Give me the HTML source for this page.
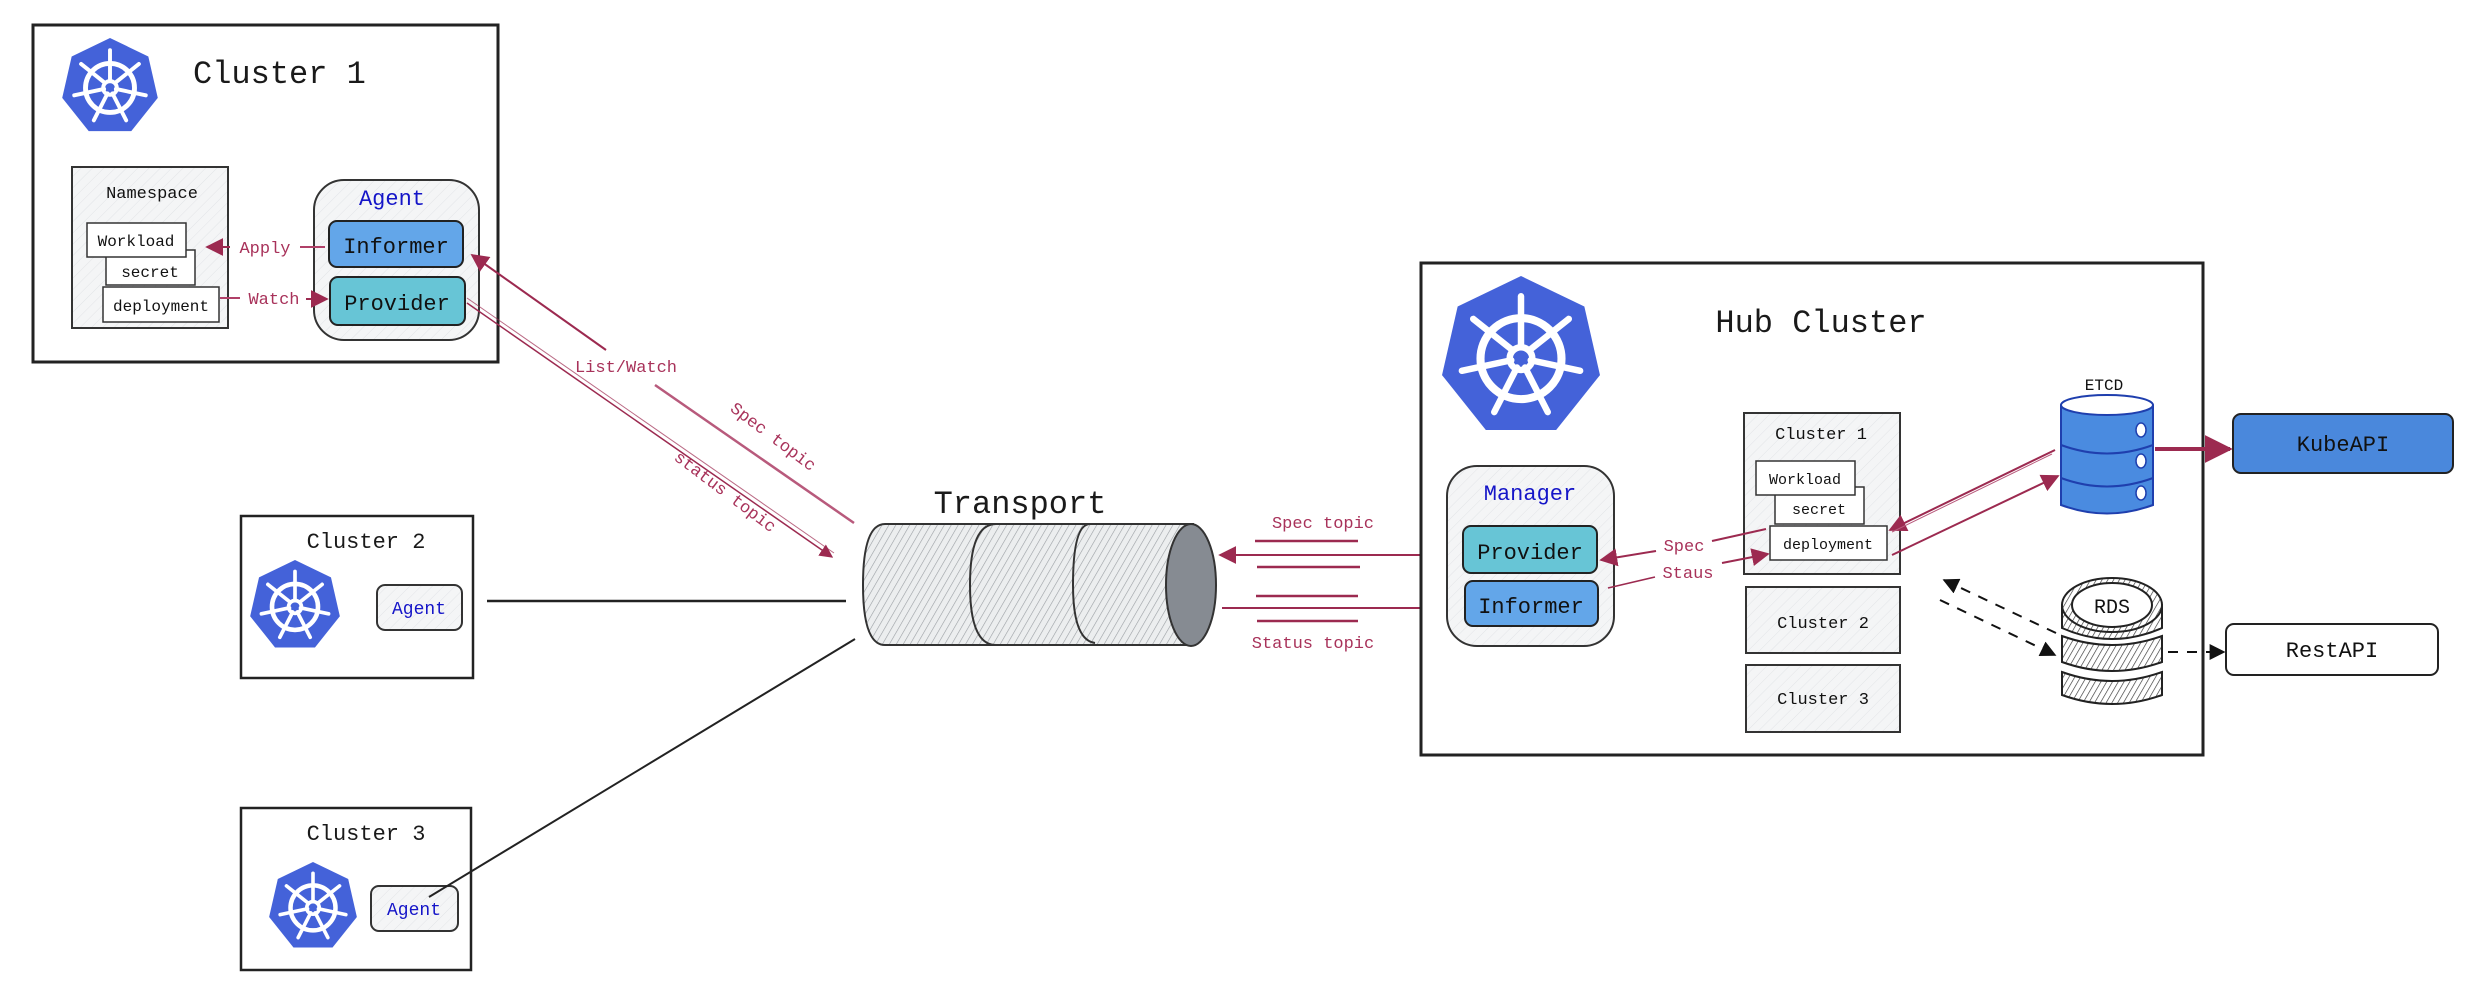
<!DOCTYPE html>
<html><head><meta charset="utf-8"><style>
html,body{margin:0;padding:0;background:#fff;}
svg{display:block;}
text{font-family:"Liberation Mono",monospace;}
</style></head><body>
<svg width="2490" height="992" viewBox="0 0 2490 992" xmlns="http://www.w3.org/2000/svg">
<defs>
<pattern id="hl" width="8" height="8" patternUnits="userSpaceOnUse" patternTransform="rotate(45)">
<rect width="8" height="8" fill="#f4f5f6"/><line x1="0" y1="0" x2="0" y2="8" stroke="#e2e4e7" stroke-width="1"/></pattern>
<pattern id="hg" width="6" height="6" patternUnits="userSpaceOnUse" patternTransform="rotate(30)">
<rect width="6" height="6" fill="#eceeef"/><line x1="0" y1="0" x2="0" y2="6" stroke="#9a9ea3" stroke-width="1.2"/></pattern>
<pattern id="hd" width="5" height="5" patternUnits="userSpaceOnUse" patternTransform="rotate(30)">
<rect width="5" height="5" fill="#fff"/><line x1="0" y1="0" x2="0" y2="5" stroke="#333" stroke-width="1.3"/></pattern>
<symbol id="k8s" viewBox="-1 -1 2 2">
<polygon points="0,-1 0.782,-0.623 0.975,0.223 0.434,0.901 -0.434,0.901 -0.975,0.223 -0.782,-0.623" fill="#4462d9"/>
<circle cx="0" cy="0.02" r="0.5" fill="none" stroke="#fff" stroke-width="0.1"/>
<circle cx="0" cy="0.02" r="0.14" fill="none" stroke="#fff" stroke-width="0.08"/>
<g stroke="#fff" stroke-width="0.08" stroke-linecap="round">
<line x1="0" y1="-0.12" x2="0" y2="-0.75"/>
<line x1="0.1" y1="-0.08" x2="0.59" y2="-0.47"/>
<line x1="0.12" y1="0.04" x2="0.73" y2="0.17"/>
<line x1="0.05" y1="0.13" x2="0.33" y2="0.68"/>
<line x1="-0.05" y1="0.13" x2="-0.33" y2="0.68"/>
<line x1="-0.12" y1="0.04" x2="-0.73" y2="0.17"/>
<line x1="-0.1" y1="-0.08" x2="-0.59" y2="-0.47"/>
</g>
</symbol>
<marker id="ar" viewBox="0 0 10 10" refX="9" refY="5" markerWidth="7" markerHeight="7" orient="auto-start-reverse" markerUnits="strokeWidth"><path d="M0,0 L10,5 L0,10 z" fill="#9c2a50"/></marker>
<marker id="arB" viewBox="0 0 10 10" refX="9" refY="5" markerWidth="9" markerHeight="9" orient="auto" markerUnits="strokeWidth"><path d="M0,0 L10,5 L0,10 z" fill="#9c2a50"/></marker>
<marker id="ak" viewBox="0 0 10 10" refX="9" refY="5" markerWidth="8" markerHeight="8" orient="auto" markerUnits="strokeWidth"><path d="M0,0 L10,5 L0,10 z" fill="#111"/></marker>
</defs>

<!-- Cluster 1 -->
<rect x="33" y="25" width="465" height="337" fill="#fff" stroke="#222" stroke-width="3"/>
<use href="#k8s" x="61" y="38" width="98" height="98"/>
<text x="193" y="83" font-size="32" fill="#1a1a1a">Cluster 1</text>
<rect x="72" y="167" width="156" height="161" fill="url(#hl)" stroke="#333" stroke-width="2"/>
<text x="152" y="198" font-size="17" fill="#111" text-anchor="middle">Namespace</text>
<rect x="106" y="250" width="89" height="35" fill="#fff" stroke="#333" stroke-width="1.5"/>
<rect x="87" y="223" width="99" height="34" fill="#fff" stroke="#333" stroke-width="1.5"/>
<text x="136" y="246" font-size="16" fill="#111" text-anchor="middle">Workload</text>
<text x="150" y="277" font-size="16" fill="#111" text-anchor="middle">secret</text>
<rect x="103" y="287" width="116" height="35" fill="#fff" stroke="#333" stroke-width="1.5"/>
<text x="161" y="311" font-size="16" fill="#111" text-anchor="middle">deployment</text>
<rect x="314" y="180" width="165" height="160" rx="30" fill="url(#hl)" stroke="#333" stroke-width="2"/>
<text x="392" y="205" font-size="22" fill="#1515c8" text-anchor="middle">Agent</text>
<rect x="329" y="221" width="134" height="46" rx="8" fill="#63a6e9" stroke="#222" stroke-width="2"/>
<text x="396" y="253" font-size="22" fill="#111" text-anchor="middle">Informer</text>
<rect x="330" y="277" width="135" height="48" rx="8" fill="#67c5d6" stroke="#222" stroke-width="2"/>
<text x="397" y="310" font-size="22" fill="#111" text-anchor="middle">Provider</text>
<line x1="325" y1="247" x2="300" y2="247" stroke="#b04068" stroke-width="2"/>
<line x1="230" y1="247" x2="207" y2="247" stroke="#9c2a50" stroke-width="2" marker-end="url(#arB)"/>
<text x="265" y="253" font-size="17" fill="#a8325a" text-anchor="middle">Apply</text>
<line x1="220" y1="298" x2="240" y2="298" stroke="#b04068" stroke-width="2"/>
<line x1="306" y1="299" x2="327" y2="299" stroke="#9c2a50" stroke-width="2" marker-end="url(#arB)"/>
<text x="274" y="304" font-size="17" fill="#a8325a" text-anchor="middle">Watch</text>

<!-- Agent to transport -->
<line x1="606" y1="350" x2="472" y2="255" stroke="#9c2a50" stroke-width="2" marker-end="url(#arB)"/>
<line x1="655" y1="385" x2="854" y2="523" stroke="#b85a7c" stroke-width="2.5"/>
<text x="626" y="372" font-size="17" fill="#a8325a" text-anchor="middle">List/Watch</text>
<text x="770" y="441" font-size="17" fill="#a8325a" text-anchor="middle" transform="rotate(37 770 441)">Spec topic</text>
<path d="M467,303 L832,557" stroke="#9c2a50" stroke-width="1.5" fill="none" marker-end="url(#arB)"/>
<path d="M467,298 L834,553" stroke="#9c2a50" stroke-width="1" fill="none" opacity="0.7"/>
<text x="722" y="496" font-size="17" fill="#a8325a" text-anchor="middle" transform="rotate(37 722 496)">status topic</text>

<!-- Transport -->
<text x="1020" y="513" font-size="32" fill="#1a1a1a" text-anchor="middle">Transport</text>
<path d="M885,524 L1193,524 L1193,645 L885,645 Q863,645 863,585 Q863,524 885,524 Z" fill="url(#hg)" stroke="#333" stroke-width="2"/>
<path d="M996,524 Q970,524 970,585 Q970,645 996,645" fill="none" stroke="#333" stroke-width="2"/>
<path d="M1090,524 Q1073,524 1073,585 Q1073,640 1095,643" fill="none" stroke="#333" stroke-width="2"/>
<ellipse cx="1191" cy="585" rx="25" ry="61" fill="#868b92" stroke="#333" stroke-width="2"/>

<!-- right topics -->
<line x1="1470" y1="555" x2="1220" y2="555" stroke="#9c2a50" stroke-width="2" marker-end="url(#arB)"/>
<line x1="1255" y1="541" x2="1358" y2="541" stroke="#9c2a50" stroke-width="2.5"/>
<line x1="1257" y1="567" x2="1360" y2="567" stroke="#9c2a50" stroke-width="2.5"/>
<line x1="1222" y1="608" x2="1462" y2="608" stroke="#9c2a50" stroke-width="2" marker-end="url(#arB)"/>
<line x1="1256" y1="596" x2="1358" y2="596" stroke="#9c2a50" stroke-width="2.5"/>
<line x1="1257" y1="621" x2="1358" y2="621" stroke="#9c2a50" stroke-width="2.5"/>
<text x="1323" y="528" font-size="17" fill="#a8325a" text-anchor="middle">Spec topic</text>
<text x="1313" y="648" font-size="17" fill="#a8325a" text-anchor="middle">Status topic</text>

<!-- Cluster 2 -->
<rect x="241" y="516" width="232" height="162" fill="#fff" stroke="#222" stroke-width="2.5"/>
<text x="366" y="548" font-size="22" fill="#1a1a1a" text-anchor="middle">Cluster 2</text>
<use href="#k8s" x="249" y="560" width="92" height="92"/>
<rect x="377" y="585" width="85" height="45" rx="8" fill="url(#hl)" stroke="#333" stroke-width="2"/>
<text x="419" y="614" font-size="18" fill="#1515c8" text-anchor="middle">Agent</text>
<line x1="487" y1="601" x2="846" y2="601" stroke="#222" stroke-width="2.5"/>

<!-- Cluster 3 -->
<rect x="241" y="808" width="230" height="162" fill="#fff" stroke="#222" stroke-width="2.5"/>
<text x="366" y="840" font-size="22" fill="#1a1a1a" text-anchor="middle">Cluster 3</text>
<use href="#k8s" x="268" y="862" width="90" height="90"/>
<rect x="371" y="886" width="87" height="45" rx="8" fill="url(#hl)" stroke="#333" stroke-width="2"/>
<text x="414" y="915" font-size="18" fill="#1515c8" text-anchor="middle">Agent</text>
<line x1="429" y1="897" x2="855" y2="639" stroke="#222" stroke-width="2"/>

<!-- Hub -->
<rect x="1421" y="263" width="782" height="492" fill="#fff" stroke="#222" stroke-width="3"/>
<use href="#k8s" x="1440" y="276" width="162" height="162"/>
<text x="1821" y="332" font-size="32" fill="#1a1a1a" text-anchor="middle">Hub Cluster</text>
<rect x="1447" y="466" width="167" height="180" rx="30" fill="url(#hl)" stroke="#333" stroke-width="2"/>
<text x="1530" y="500" font-size="22" fill="#1515c8" text-anchor="middle">Manager</text>
<rect x="1463" y="526" width="134" height="47" rx="8" fill="#67c5d6" stroke="#222" stroke-width="2"/>
<text x="1530" y="559" font-size="22" fill="#111" text-anchor="middle">Provider</text>
<rect x="1465" y="581" width="133" height="45" rx="8" fill="#63a6e9" stroke="#222" stroke-width="2"/>
<text x="1531" y="613" font-size="22" fill="#111" text-anchor="middle">Informer</text>

<rect x="1744" y="413" width="156" height="161" fill="url(#hl)" stroke="#333" stroke-width="2"/>
<text x="1821" y="439" font-size="17" fill="#111" text-anchor="middle">Cluster 1</text>
<rect x="1775" y="487" width="89" height="37" fill="#fff" stroke="#333" stroke-width="1.5"/>
<rect x="1756" y="461" width="99" height="34" fill="#fff" stroke="#333" stroke-width="1.5"/>
<text x="1805" y="484" font-size="15" fill="#111" text-anchor="middle">Workload</text>
<text x="1819" y="514" font-size="15" fill="#111" text-anchor="middle">secret</text>
<rect x="1770" y="526" width="117" height="34" fill="#fff" stroke="#333" stroke-width="1.5"/>
<text x="1828" y="549" font-size="15" fill="#111" text-anchor="middle">deployment</text>
<rect x="1746" y="587" width="154" height="66" fill="url(#hl)" stroke="#333" stroke-width="2"/>
<text x="1823" y="628" font-size="17" fill="#111" text-anchor="middle">Cluster 2</text>
<rect x="1746" y="665" width="154" height="67" fill="url(#hl)" stroke="#333" stroke-width="2"/>
<text x="1823" y="704" font-size="17" fill="#111" text-anchor="middle">Cluster 3</text>

<line x1="1766" y1="529" x2="1712" y2="541" stroke="#9c2a50" stroke-width="2"/>
<line x1="1656" y1="551" x2="1601" y2="560" stroke="#9c2a50" stroke-width="2" marker-end="url(#arB)"/>
<text x="1684" y="551" font-size="17" fill="#a8325a" text-anchor="middle">Spec</text>
<line x1="1608" y1="588" x2="1655" y2="577" stroke="#9c2a50" stroke-width="1.5"/>
<line x1="1722" y1="563" x2="1768" y2="554" stroke="#9c2a50" stroke-width="2" marker-end="url(#arB)"/>
<text x="1688" y="578" font-size="17" fill="#a8325a" text-anchor="middle">Staus</text>

<!-- ETCD -->
<text x="2104" y="390" font-size="16" fill="#111" text-anchor="middle">ETCD</text>
<path d="M2061,405 L2061,505 Q2107,522 2153,505 L2153,405" fill="#4a8be0" stroke="#1f3fae" stroke-width="2"/>
<ellipse cx="2107" cy="405" rx="46" ry="10" fill="#fff" stroke="#1f3fae" stroke-width="2"/>
<path d="M2061,445 Q2107,462 2153,445" fill="none" stroke="#1f3fae" stroke-width="2"/>
<path d="M2061,478 Q2107,495 2153,478" fill="none" stroke="#1f3fae" stroke-width="2"/>
<ellipse cx="2141" cy="430" rx="5" ry="7" fill="#fff" stroke="#1f3fae" stroke-width="1.5"/>
<ellipse cx="2141" cy="461" rx="5" ry="7" fill="#fff" stroke="#1f3fae" stroke-width="1.5"/>
<ellipse cx="2141" cy="493" rx="5" ry="7" fill="#fff" stroke="#1f3fae" stroke-width="1.5"/>
<line x1="2155" y1="449" x2="2230" y2="449" stroke="#9c2a50" stroke-width="4" marker-end="url(#ar)"/>
<rect x="2233" y="414" width="220" height="59" rx="8" fill="#4a88dc" stroke="#222" stroke-width="2"/>
<text x="2343" y="451" font-size="22" fill="#111" text-anchor="middle">KubeAPI</text>
<line x1="2055" y1="450" x2="1890" y2="530" stroke="#9c2a50" stroke-width="2" marker-end="url(#arB)"/>
<line x1="2052" y1="454" x2="1892" y2="532" stroke="#b85a7c" stroke-width="1"/>
<line x1="1892" y1="555" x2="2058" y2="476" stroke="#9c2a50" stroke-width="2" marker-end="url(#arB)"/>

<!-- RDS -->
<path d="M2062,672 Q2112,690 2162,672 L2162,695 Q2112,713 2062,695 Z" fill="url(#hd)" stroke="#222" stroke-width="2"/>
<path d="M2062,636 Q2112,654 2162,636 L2162,662 Q2112,680 2062,662 Z" fill="url(#hd)" stroke="#222" stroke-width="2"/>
<path d="M2062,605 L2062,628 Q2112,650 2162,628 L2162,605 Z" fill="url(#hd)" stroke="#222" stroke-width="2"/>
<ellipse cx="2112" cy="605" rx="50" ry="27" fill="url(#hd)" stroke="#222" stroke-width="2"/>
<ellipse cx="2112" cy="605" rx="40" ry="22" fill="#fff" stroke="#222" stroke-width="2"/>
<text x="2112" y="613" font-size="20" fill="#111" text-anchor="middle">RDS</text>
<line x1="2056" y1="633" x2="1944" y2="580" stroke="#111" stroke-width="2" stroke-dasharray="10,9" marker-end="url(#ak)"/>
<line x1="1940" y1="600" x2="2055" y2="655" stroke="#111" stroke-width="2" stroke-dasharray="10,9" marker-end="url(#ak)"/>
<line x1="2168" y1="652" x2="2224" y2="652" stroke="#111" stroke-width="2" stroke-dasharray="10,9" marker-end="url(#ak)"/>
<rect x="2226" y="624" width="212" height="51" rx="8" fill="#fff" stroke="#222" stroke-width="2"/>
<text x="2332" y="657" font-size="22" fill="#111" text-anchor="middle">RestAPI</text>
</svg>
</body></html>
